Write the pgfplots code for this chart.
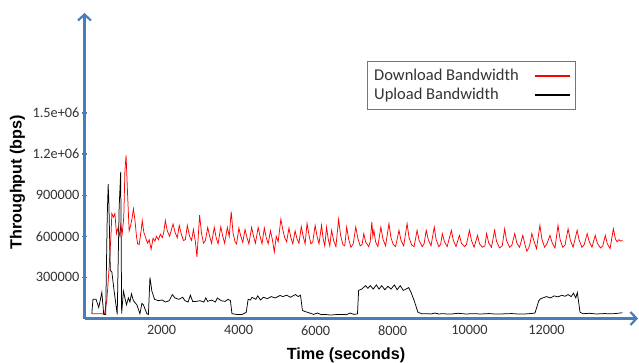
\documentclass[border=0pt]{standalone}
\usepackage{pgfplots}
\pgfplotsset{compat=1.18}
\usepackage{fontspec}
\setmainfont{Carlito}
\newfontfamily\lsans{Liberation Sans}
\usetikzlibrary{arrows.meta}
\definecolor{axisblue}{HTML}{4A7EBB}
\definecolor{ticktext}{HTML}{333333}
\begin{document}
\begin{tikzpicture}
\useasboundingbox (0,0) rectangle (639pt,362pt);
\begin{axis}[
  at={(84.5pt,43.5pt)}, anchor=south west,
  scale only axis, width=553.5pt, height=305.5pt,
  xmin=0, xmax=14376, ymin=0, ymax=2230000,
  axis lines=left, clip=false,
  axis line style={axisblue, line width=2.4pt, -{Straight Barb[length=6pt,width=13pt,line width=2.2pt]}},
  xtick={2000,4000,6000,8000,10000,12000},
  xticklabels={2000,4000,6000,8000,10000,12000},
  ytick={300000,600000,900000,1200000,1500000},
  yticklabels={300000,600000,900000,1.2e+06,1.5e+06},
  scaled ticks=false,
  xtick style={draw=none},
  ytick style={axisblue, line width=1.4pt},
  major tick length=5pt, tick align=center,
  tick label style={font=\fontsize{14.3}{17}\selectfont, text=ticktext},
  xticklabel style={yshift=-1pt},
  yticklabel style={xshift=1pt},
  /pgf/number format/assume math mode=true,
  xlabel={\lsans\bfseries Time (seconds)},
  ylabel={\lsans\bfseries Throughput (bps)},
  every axis x label/.style={at={(axis description cs:0.4725,-0.1345)}, anchor=base, font=\fontsize{16.2}{19}\selectfont},
  every axis y label/.style={at={(axis description cs:-0.1135,0.4458)}, rotate=90, anchor=base, font=\fontsize{16.2}{19}\selectfont},
  legend style={at={(axis description cs:0.5098,0.8439)}, anchor=north west, draw=axisblue, line width=1pt,
    font=\fontsize{16.5}{19}\selectfont, text=ticktext, inner xsep=5pt, inner ysep=6pt,
    legend cell align=left, /tikz/column sep=13pt, /tikz/row sep=2pt},
  legend plot pos=right,
  legend image code/.code={\draw[#1, line width=1.8pt] (0pt,0pt) -- (35pt,0pt);},
]
\addplot[red, line width=0.75pt] coordinates {
(190,34000) (370,34000) (520,34000) (580,130000) (640,375000) (690,620000) (710,766000) (750,740000)
(790,766000) (830,620000) (870,660000) (920,600000) (940,680000) (980,620000) (1020,740000) (1050,1080000)
(1080,1190000) (1120,900000) (1160,640000) (1200,680000) (1240,740000) (1270,800000) (1310,720000) (1350,600000)
(1380,545000) (1420,540000) (1470,640000) (1500,715000) (1540,630000) (1600,580000) (1640,550000) (1680,575000)
(1730,505000) (1780,585000) (1830,565000) (1870,600000) (1920,575000) (1970,615000) (2020,590000) (2060,630000)
(2100,715000) (2150,640000) (2210,600000) (2260,650000) (2300,690000) (2350,630000) (2410,590000) (2460,680000)
(2510,620000) (2570,570000) (2620,575000) (2670,680000) (2730,600000) (2780,570000) (2830,650000) (2880,560000)
(2920,450000) (2990,755000) (3040,620000) (3090,550000) (3140,570000) (3200,665000) (3250,600000) (3300,550000)
(3370,665000) (3420,590000) (3470,545000) (3540,670000) (3590,600000) (3640,550000) (3710,665000) (3760,600000)
(3810,780000) (3860,620000) (3910,560000) (3950,545000) (4010,660000) (4060,600000) (4110,555000) (4170,650000)
(4220,590000) (4270,545000) (4340,665000) (4390,600000) (4440,550000) (4510,665000) (4560,600000) (4610,545000)
(4670,660000) (4720,590000) (4770,545000) (4830,640000) (4880,575000) (4930,485000) (4980,600000) (5030,560000)
(5100,725000) (5150,650000) (5200,590000) (5250,560000) (5310,660000) (5360,590000) (5410,545000) (5470,640000)
(5520,580000) (5570,550000) (5630,670000) (5680,600000) (5730,545000) (5780,695000) (5830,610000) (5880,545000)
(5930,560000) (5990,680000) (6040,600000) (6090,545000)
(6156,680000) (6200,580000) (6240,530000) (6287,666000) (6330,580000) (6370,530000) (6418,644000) (6470,570000)
(6530,525000) (6600,724000) (6650,610000) (6710,540000) (6760,530000) (6810,668000) (6860,580000) (6920,520000)
(6980,545000) (7045,668000) (7100,585000) (7160,530000) (7210,540000) (7254,620000) (7300,560000) (7380,525000)
(7420,560000) (7463,705000) (7490,600000) (7516,644000) (7560,560000) (7620,525000) (7698,668000) (7750,580000)
(7820,530000) (7907,693000) (7960,590000) (8020,540000) (8080,525000) (8168,644000) (8220,570000) (8290,530000)
(8378,693000) (8430,590000) (8500,535000) (8560,525000) (8639,644000) (8690,570000) (8770,525000) (8820,545000)
(8875,644000) (8930,575000) (9000,530000) (9084,668000) (9130,580000) (9200,525000) (9250,540000) (9293,620000)
(9350,560000) (9420,525000) (9528,644000) (9580,570000) (9650,525000) (9737,607000) (9790,550000) (9870,525000)
(9920,540000) (9998,644000) (10050,570000) (10120,520000) (10207,607000) (10260,545000) (10330,520000) (10400,530000)
(10443,620000) (10500,550000) (10570,520000) (10652,644000) (10700,565000) (10780,515000) (10850,530000) (10913,655000)
(10960,570000) (11040,520000) (11100,535000) (11175,620000) (11230,550000) (11300,520000) (11384,607000) (11440,540000)
(11490,490000) (11560,530000) (11619,620000) (11680,560000) (11740,510000) (11828,680000) (11880,580000) (11950,520000)
(12010,545000) (12089,607000) (12150,550000) (12220,515000) (12298,680000) (12350,580000) (12420,520000) (12480,535000)
(12560,655000) (12620,570000) (12690,520000) (12795,644000) (12850,570000) (12920,520000) (12980,540000) (13056,620000)
(13110,560000) (13180,520000) (13265,607000) (13320,550000) (13400,515000) (13460,530000) (13527,607000) (13580,545000)
(13650,510000) (13736,655000) (13790,580000) (13830,560000) (13880,575000) (13930,565000) (13970,570000)
};
\addlegendentry{Download Bandwidth}
\addplot[black, line width=0.75pt] coordinates {
(190,36000) (220,140000) (300,140000) (370,80000) (450,190000) (500,30000) (550,30000) (590,740000)
(615,980000) (635,826000) (670,350000) (710,340000) (770,200000) (850,30000) (900,810000) (940,1070000)
(965,35000) (1010,200000) (1090,100000) (1140,150000) (1180,120000) (1220,180000) (1270,130000) (1360,100000)
(1440,35000) (1490,110000) (1530,100000) (1620,35000) (1660,30000) (1700,300000) (1750,200000) (1820,140000)
(1920,130000) (2020,135000) (2100,120000) (2200,130000) (2280,175000) (2350,150000) (2450,140000) (2550,155000)
(2610,130000) (2690,120000) (2750,170000) (2810,125000) (2900,125000) (3000,130000) (3100,120000) (3150,150000)
(3200,125000) (3300,135000) (3400,120000) (3450,150000) (3550,130000) (3650,125000) (3730,140000) (3790,130000)
(3830,35000) (3950,30000) (4100,30000) (4200,45000) (4250,140000) (4310,135000) (4350,155000) (4450,140000)
(4500,165000) (4570,135000) (4650,155000) (4750,145000) (4850,160000) (4950,150000) (5080,168000) (5150,160000)
(5250,170000) (5350,155000) (5480,175000) (5550,160000) (5610,170000) (5660,58000) (5780,46000) (5850,40000)
(5950,30000) (6050,40000) (6150,28000) (6250,30000) (6390,25000) (6500,28000) (6650,30000) (6800,28000)
(6900,40000) (7000,30000) (7090,34000) (7120,205000) (7200,215000) (7300,240000) (7360,220000) (7420,240000)
(7500,215000) (7580,245000) (7650,215000) (7720,240000) (7800,210000) (7880,235000) (7960,215000) (8050,245000)
(8120,210000) (8200,240000) (8280,205000) (8350,215000) (8420,225000) (8480,192000) (8560,132000) (8660,46000)
(8760,34000) (8900,35000) (9000,33000) (9100,40000) (9200,33000) (9300,35000) (9500,32000) (9700,38000)
(9900,33000) (10100,35000) (10300,33000) (10500,36000) (10700,32000) (10900,34000) (11100,36000) (11300,32000)
(11500,34000) (11650,38000) (11700,40000) (11800,130000) (11850,145000) (11900,150000) (12000,160000) (12100,150000)
(12200,165000) (12300,158000) (12400,170000) (12480,162000) (12560,175000) (12640,160000) (12700,185000) (12760,150000)
(12800,190000) (12870,46000) (12950,35000) (13100,38000) (13300,33000) (13500,36000) (13700,34000) (13850,38000)
(13970,42000)
};
\addlegendentry{Upload Bandwidth}
\end{axis}
\end{tikzpicture}
\end{document}
